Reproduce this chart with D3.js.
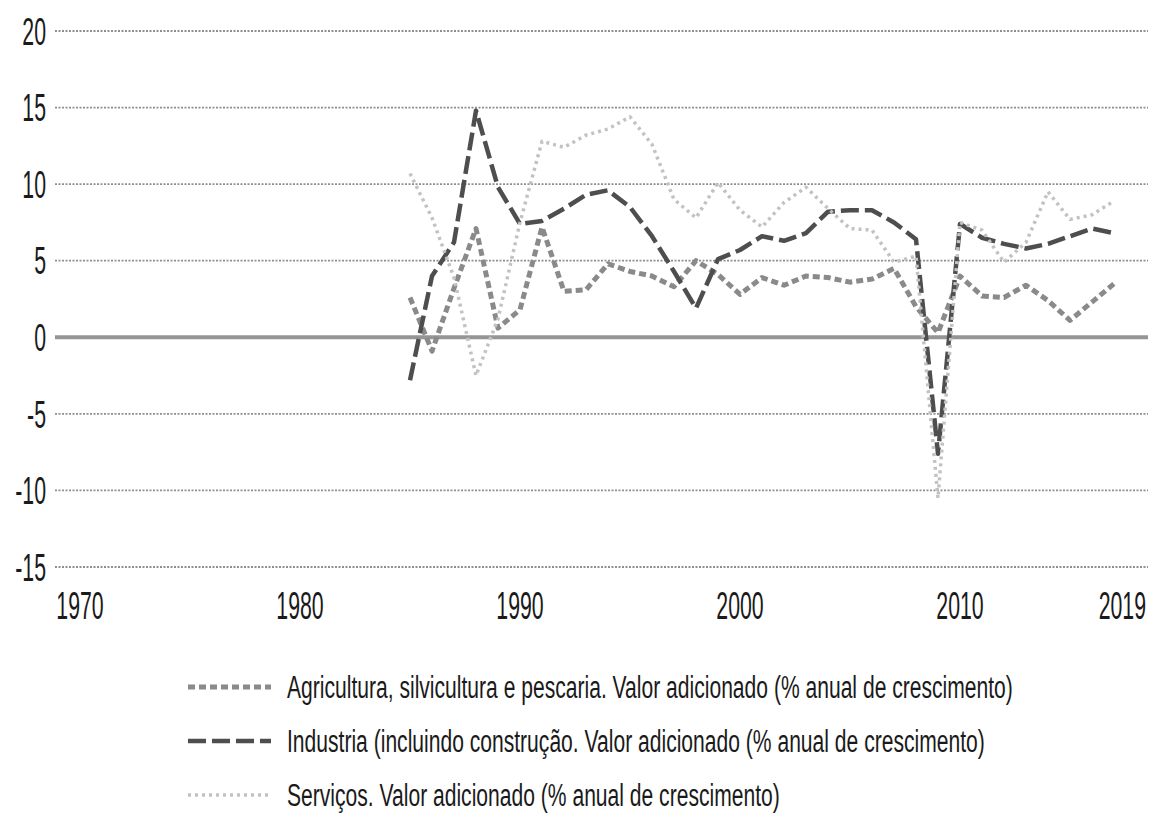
<!DOCTYPE html>
<html>
<head>
<meta charset="utf-8">
<script src="https://cdn.jsdelivr.net/npm/d3@7"></script>
<style>
  body { margin: 0; background: #fff; }
</style>
</head>
<body>
<div id="chart"></div>
<script>
// Data
var years = [1985, 1986, 1987, 1988, 1989, 1990, 1991, 1992, 1993, 1994, 1995,
  1996, 1997, 1998, 1999, 2000, 2001, 2002, 2003, 2004, 2005, 2006, 2007,
  2008, 2009, 2010, 2011, 2012, 2013, 2014, 2015, 2016, 2017]
var agri = [2.6, -0.9, 3.2, 7.1, 0.6, 1.8, 7.2, 3.0, 3.1, 4.8, 4.3, 4.0, 3.3,
  5.0, 4.1, 2.8, 3.9, 3.4, 4.0, 3.9, 3.6, 3.8, 4.5, 2.0, 0.3, 4.0, 2.7, 2.6,
  3.4, 2.4, 1.1, 2.3, 3.5]
var industry = [-2.8, 4.0, 6.2, 14.8, 9.8, 7.4, 7.6, 8.4, 9.3, 9.6, 8.5, 6.6,
  4.3, 1.9, 5.1, 5.7, 6.6, 6.3, 6.8, 8.2, 8.3, 8.3, 7.5, 6.4, -7.6, 7.4, 6.5,
  6.1, 5.8, 6.1, 6.6, 7.1, 6.8]
var services = [10.7, 7.8, 3.9, -2.5, 1.2, 7.5, 12.8, 12.4, 13.2, 13.6, 14.4,
  12.6, 9.0, 7.8, 10.1, 8.3, 7.2, 8.8, 9.8, 8.4, 7.1, 7.0, 4.9, 5.3, -10.5,
  7.5, 7.0, 4.9, 6.2, 9.5, 7.7, 8.0, 8.9]
var xTicks = [1970, 1980, 1990, 2000, 2010, 2019]
var yTicks = [-15, -10, -5, 0, 5, 10, 15, 20]
var labels = [
  'Agricultura, silvicultura e pescaria. Valor adicionado (% anual de crescimento)',
  'Industria (incluindo construção. Valor adicionado (% anual de crescimento)',
  'Serviços. Valor adicionado (% anual de crescimento)'
]

var series = [
  {name: labels[0], values: agri, color: '#8a8a8a', width: 5, dash: '7,4'},
  {name: labels[1], values: industry, color: '#4e4e4e', width: 4.5, dash: '18,6'},
  {name: labels[2], values: services, color: '#c2c2c2', width: 3.5, dash: '3,4'}
]

var width = 1156
var height = 814
var plot = {left: 55, right: 1148}
var font = 'Liberation Sans, Arial, sans-serif'
var squeeze = 0.56 // the original lettering is very narrow

var x = d3.scaleLinear().domain([1970, 2017]).range([80, 1114])
var y = d3.scaleLinear().domain([-15, 20]).range([567, 31])

var svg = d3.select('#chart').append('svg')
    .attr('width', width)
    .attr('height', height)

// Gridlines
svg.selectAll('line.grid')
    .data(yTicks.filter(function(d){ return d !== 0 }))
  .enter().append('line')
    .attr('class', 'grid')
    .attr('x1', plot.left)
    .attr('x2', plot.right)
    .attr('y1', function(d){ return y(d) })
    .attr('y2', function(d){ return y(d) })
    .style('stroke', '#8e8e8e')
    .style('stroke-width', 1.8)
    .style('stroke-dasharray', '2,1.5')

// Zero line
svg.append('line')
    .attr('x1', plot.left)
    .attr('x2', plot.right)
    .attr('y1', y(0))
    .attr('y2', y(0))
    .style('stroke', '#959595')
    .style('stroke-width', 4)

// Y labels
svg.selectAll('text.y')
    .data(yTicks)
  .enter().append('text')
    .attr('class', 'y')
    .attr('transform', function(d){ return 'translate(46,' + y(d) + ') scale(' + squeeze + ',1)' })
    .attr('dy', '0.36em')
    .style('text-anchor', 'end')
    .attr('font-family', font)
    .attr('font-size', '38px')
    .attr('fill', '#1a1a1a')
    .text(function(d){ return d })

// X labels (the last one is kept inside the plot)
svg.selectAll('text.x')
    .data(xTicks)
  .enter().append('text')
    .attr('class', 'x')
    .attr('font-family', font)
    .attr('font-size', '38px')
    .attr('fill', '#1a1a1a')
    .style('text-anchor', function(d){ return x(d) > plot.right - 25 ? 'end' : 'middle' })
    .attr('transform', function(d){
      var px = x(d) > plot.right - 25 ? plot.right - 2 : x(d)
      return 'translate(' + px + ',619) scale(' + squeeze + ',1)'
    })
    .text(function(d){ return d })

// Lines
var line = d3.line()
    .x(function(d, i){ return x(years[i]) })
    .y(function(d){ return y(d) })

svg.selectAll('path.serie')
    .data(series)
  .enter().append('path')
    .attr('class', 'serie')
    .attr('d', function(d){ return line(d.values) })
    .style('fill', 'none')
    .style('stroke', function(d){ return d.color })
    .style('stroke-width', function(d){ return d.width })
    .style('stroke-dasharray', function(d){ return d.dash })
    .style('stroke-linejoin', 'round')

// Legend
var legend = svg.selectAll('g.legend')
    .data(series)
  .enter().append('g')
    .attr('class', 'legend')
    .attr('transform', function(d, i){ return 'translate(0,' + (687 + i * 54) + ')' })

legend.append('line')
    .attr('x1', 188)
    .attr('x2', 271)
    .style('stroke', function(d){ return d.color })
    .style('stroke-width', function(d){ return d.width })
    .style('stroke-dasharray', function(d){ return d.dash })

legend.append('text')
    .attr('transform', 'translate(287,0) scale(0.68,1)')
    .attr('dy', '0.36em')
    .attr('font-family', font)
    .attr('font-size', '31px')
    .attr('fill', '#1a1a1a')
    .text(function(d){ return d.name })
</script>
</body>
</html>
